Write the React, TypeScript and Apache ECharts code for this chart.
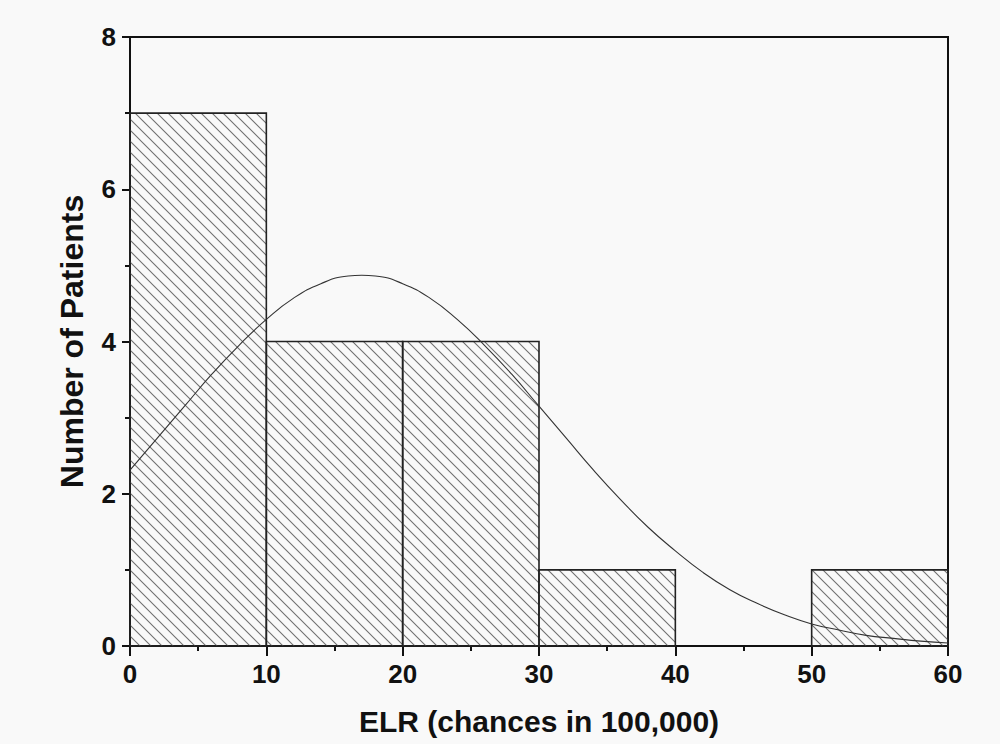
import React, { useEffect, useRef } from "react";
import * as echarts from "echarts";

// Histogram bins (ELR, chances in 100,000)
const binStarts = [0, 10, 20, 30, 40, 50];
const binEnds = [10, 20, 30, 40, 50, 60];
const counts = [7, 4, 4, 1, 0, 1];

// Fitted normal curve
const curveX = [0, 2, 4, 6, 8, 10, 12, 14, 16, 17, 18, 20, 22, 24, 26, 28, 30, 32, 34, 36, 38, 40, 42, 44, 46, 48, 50, 52, 54, 56, 58, 60];
const curveY = [2.31, 2.73, 3.15, 3.57, 3.95, 4.29, 4.57, 4.76, 4.86, 4.87, 4.86, 4.76, 4.57, 4.29, 3.95, 3.57, 3.15, 2.73, 2.31, 1.92, 1.56, 1.25, 0.97, 0.74, 0.56, 0.41, 0.29, 0.21, 0.14, 0.1, 0.064, 0.04];

const xTicks = [0, 10, 20, 30, 40, 50, 60];
const yTicks = [0, 2, 4, 6, 8];

const FONT = "'Liberation Sans', Arial, sans-serif";

const tileSvg =
  "<svg xmlns='http://www.w3.org/2000/svg' width='11' height='11'>" +
  "<path d='M-1 -1 L12 12 M-1 10 L1 12 M10 -1 L12 1' stroke='#707070' stroke-width='1.1' fill='none'/></svg>";
const tileUrl = "data:image/svg+xml;charset=utf-8," + encodeURIComponent(tileSvg);

export default function App() {
  const ref = useRef<HTMLDivElement>(null);
  useEffect(() => {
    if (!ref.current) return;
    const chart = echarts.init(ref.current, undefined, { renderer: "svg" });
    const barData = binStarts.map((s, i) => [s, binEnds[i], counts[i]]);
    chart.setOption({
      animation: false,
      backgroundColor: "#f9f9f9",
      grid: {
        left: 130,
        right: 52,
        top: 37,
        bottom: 98,
        show: true,
        borderColor: "#111",
        borderWidth: 2,
        backgroundColor: "transparent",
      },
      xAxis: {
        type: "value",
        min: xTicks[0],
        max: xTicks[xTicks.length - 1],
        interval: 10,
        name: "ELR (chances in 100,000)",
        nameLocation: "middle",
        nameGap: 60,
        nameTextStyle: { fontFamily: FONT, fontWeight: "bold", fontSize: 30, color: "#111" },
        axisLine: { show: true, onZero: false, lineStyle: { color: "#111", width: 2 } },
        axisTick: { show: true, inside: false, length: 10, lineStyle: { color: "#111", width: 2 } },
        minorTick: { show: true, splitNumber: 2, length: 5, lineStyle: { color: "#111", width: 2 } },
        axisLabel: { margin: 15, fontFamily: FONT, fontWeight: "bold", fontSize: 26, color: "#111" },
        splitLine: { show: false },
      },
      yAxis: {
        type: "value",
        min: yTicks[0],
        max: yTicks[yTicks.length - 1],
        interval: 2,
        name: "Number of Patients",
        nameLocation: "middle",
        nameGap: 42,
        nameTextStyle: { fontFamily: FONT, fontWeight: "bold", fontSize: 32, color: "#111" },
        axisLine: { show: true, onZero: false, lineStyle: { color: "#111", width: 2 } },
        axisTick: { show: true, inside: false, length: 8, lineStyle: { color: "#111", width: 2 } },
        minorTick: { show: true, splitNumber: 2, length: 5, lineStyle: { color: "#111", width: 2 } },
        axisLabel: { margin: 14, fontFamily: FONT, fontWeight: "bold", fontSize: 26, color: "#111" },
        splitLine: { show: false },
      },
      series: [
        {
          type: "custom",
          z: 2,
          data: barData,
          encode: { x: [0, 1], y: 2 },
          renderItem: (params: any, api: any) => {
            const x0 = api.value(0);
            const x1 = api.value(1);
            const h = api.value(2);
            if (!h) return null;
            const p0 = api.coord([x0, h]);
            const p1 = api.coord([x1, 0]);
            return {
              type: "rect",
              shape: { x: p0[0], y: p0[1], width: p1[0] - p0[0], height: p1[1] - p0[1] },
              style: {
                fill: { image: tileUrl, repeat: "repeat" },
                stroke: "#222",
                lineWidth: 1.6,
              },
            };
          },
        },
        {
          type: "line",
          z: 5,
          smooth: true,
          symbol: "none",
          data: curveX.map((x, i) => [x, curveY[i]]),
          lineStyle: { color: "#333", width: 1.1 },
        },
      ],
    });
    return () => chart.dispose();
  }, []);
  return (
    <div
      ref={ref}
      style={{ position: "fixed", left: 0, top: 0, width: 1000, height: 744 }}
    />
  );
}
